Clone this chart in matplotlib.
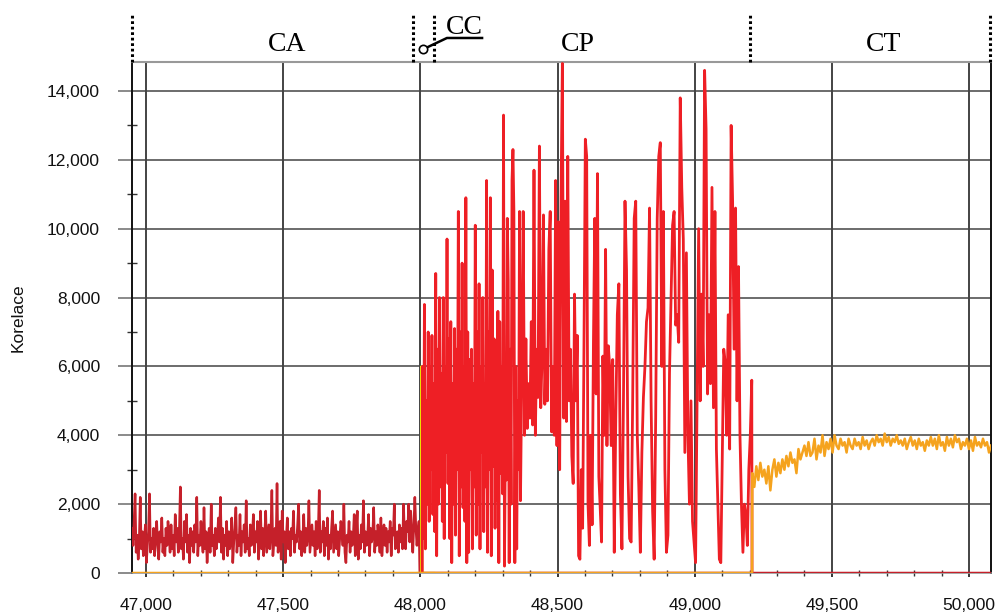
import numpy as np
import matplotlib
matplotlib.use("Agg")
import matplotlib.pyplot as plt
from matplotlib.ticker import MultipleLocator, FuncFormatter
import matplotlib.transforms as mtransforms

# ---------------- data ----------------
x_start, x_end = 46949, 50080
ca_end = 47995
ca_values = [
    1300, 800, 1500, 2300, 600, 1100, 400, 900, 2200, 700, 1200, 500, 1000, 1400, 300, 800, 1200, 2300, 600, 1000,
    700, 1300, 500, 1100, 1500, 800, 400, 1200, 900, 1600, 600, 1000, 500, 1300, 800, 1500, 1100, 600, 1400, 700,
    1100, 500, 1700, 900, 1300, 600, 1200, 2500, 700, 1000, 400, 1500, 900, 1700, 600, 1100, 300, 1300, 800, 1200,
    600, 1400, 900, 2200, 500, 1100, 800, 1500, 1000, 600, 1900, 700, 1200, 300, 900, 1300, 600, 2000, 800, 1100,
    500, 1300, 700, 1000, 1600, 900, 2200, 600, 1300, 400, 1100, 800, 1500, 500, 1200, 700, 1000, 1600, 300, 900,
    1300, 1900, 600, 1100, 800, 1700, 500, 1200, 900, 1400, 600, 2100, 700, 1000, 500, 1400, 800, 1100, 1700, 600,
    1200, 900, 1500, 400, 1000, 1800, 700, 1300, 500, 1100, 1800, 600, 1000, 1400, 700, 1200, 2400, 500, 900, 1300,
    800, 2600, 600, 1100, 1500, 400, 1800, 900, 1200, 300, 1000, 1600, 700, 1200, 500, 1300, 1000, 1800, 600, 1100,
    900, 1400, 2000, 700, 1200, 500, 1000, 1700, 600, 1300, 800, 1100, 2100, 600, 1000, 1400, 800, 1200, 500, 1500,
    700, 1100, 2400, 600, 1200, 900, 1500, 500, 1300, 800, 1600, 400, 1100, 700, 1300, 1800, 600, 1000, 1400, 700,
    1200, 500, 1000, 1500, 1300, 800, 2000, 600, 300, 1100, 900, 1500, 600, 1200, 800, 1000, 1700, 500, 1200, 1800,
    400, 1100, 700, 1400, 900, 2100, 600, 1200, 800, 1000, 1700, 500, 1300, 900, 1100, 1900, 600, 1200, 800, 1400,
    1100, 600, 1600, 500, 1000, 1400, 800, 1300, 600, 1200, 900, 1500, 500, 1300, 1100, 2000, 700, 1000, 1200, 600,
    1400, 900, 1300, 700, 2000, 1000, 700, 1500, 1200, 2000, 900, 1800, 1100, 600, 1400, 2200, 1300, 800, 1200, 1500,
]

cc_x = [47990, 48003, 48004, 48007, 48050]
cc_y = [0, 0, 6000, 0, 0]

cp_breaks = [48008, 48365, 48690, 49020, 49208]
cp_a = [6000, 1000, 7800, 700, 5000, 2000, 7000, 1500, 6000, 3000,
        6900, 1700, 5500, 1200, 8700, 500, 6500, 2000, 8000, 2500,
        5800, 1500, 8000, 1000, 6000, 3500, 9700, 2600, 6800, 1000,
        7300, 300, 5500, 2000, 7100, 1100, 6500, 3000, 10500, 500,
        7000, 2500, 9000, 1900, 6000, 1500, 10900, 300, 7000, 600,
        6200, 3000, 6500, 700, 5500, 2500, 10100, 1100, 7000, 2000,
        8400, 700, 6000, 3500, 8000, 1200, 5500, 2500, 11400, 600,
        7000, 3000, 10900, 500, 8800, 3100, 6800, 1300, 6700, 2100,
        7600, 300, 7300, 2900, 6000, 2300, 13300, 200, 4000, 2700,
        10300, 8500, 300, 6500, 2000, 11400, 12300, 10500, 300, 6000,
        700, 5000, 3000, 10500]
cp_b = [2100, 6000, 10500, 4000, 6800, 4200, 5500, 4500, 7300, 4300,
        11700, 4000, 6500, 5100, 12400, 4800, 6300, 10400, 4900, 6500,
        5000, 9400, 10500, 4100, 6000, 4000, 11400, 3700, 10200, 3000,
        10900, 14800, 4500, 10800, 4400, 12100, 5000, 6500, 3400, 2600,
        8100, 5000, 6900, 500, 400, 3000, 1300, 6600, 12600, 12100,
        2000, 800, 4000, 1400, 6700, 10300, 5200, 11600, 2800, 1900,
        900, 6300, 4000, 9400, 3700, 6600]
cp_c = [6000, 3700, 6200, 600, 4500, 7500, 8400, 2300, 700, 5000,
        10800, 8800, 2800, 1000, 900, 5000, 10300, 10800, 4000, 2500,
        600, 3500, 5100, 6000, 7300, 7700, 10600, 5000, 1800, 400,
        4500, 10300, 12100, 12500, 6000, 10500, 3000, 600, 1100, 5800,
        8000, 10100, 10500, 7200, 7500, 6700, 13800, 11200, 9700, 3500,
        9300, 4000, 2000, 5000, 1500, 900, 300, 5000, 10000]
cp_d = [5000, 8100, 6000, 14600, 12900, 5200, 7500, 5500, 11200, 4800,
        10500, 3600, 2000, 400, 300, 3500, 6500, 6100, 4000, 7500,
        3600, 13000, 10800, 6500, 10600, 5000, 8900, 4000, 2000, 600,
        2000, 1700, 800, 3000, 4000, 5600]

ct_start = 49210
ct_values = [
    2900, 2500, 3100, 2700, 3200, 2800, 3000, 2600, 3100, 2400, 3000, 3300, 2800, 3200, 2900,
    3300, 3000, 3400, 3100, 3500, 3200, 3300, 2900, 3600, 3300, 3500, 3700, 3400, 3800, 3400,
    3500, 3900, 3300, 3700, 3500, 4000, 3400, 3800, 3600, 3900, 3500, 4000, 3700, 3600, 3900,
    3700, 3800, 3500, 3900, 3700, 3600, 3900, 3700, 3800, 3600, 3950, 3700, 3850, 3600, 3800,
    3900, 3700, 4000, 3800, 3900, 3700, 4050, 3800, 3950, 3700, 3900, 3800, 4000, 3750, 3850,
    3700, 3900, 3600, 3800, 3950, 3700, 3850, 3600, 3900, 3700, 3800, 3550, 3850, 3700, 3950,
    3700, 3900, 3600, 4000, 3700, 3800, 3550, 3950, 3700, 3900, 3650, 4000, 3800, 3900, 3600,
    3800, 3700, 3900, 3600, 3850, 3550, 3950, 3700, 3800, 3650, 3900, 3700, 3800, 3500, 3700,
]

region_labels = ["CA", "CC", "CP", "CT"]
region_bounds = [x_start, 47973, 48050, 49201, 50076]

# ---------------- build series ----------------
ca_x = np.concatenate([np.linspace(x_start, ca_end, len(ca_values)), [ca_end + 3, x_end]])
ca_y = np.concatenate([ca_values, [0, 0]])

cp_segs = [cp_a, cp_b, cp_c, cp_d]
cp_xs, cp_ys = [[cp_breaks[0] - 1]], [[0]]
for i, seg in enumerate(cp_segs):
    lo, hi = cp_breaks[i], cp_breaks[i + 1]
    xs = np.linspace(lo, hi, len(seg) + 1)[:-1] if i < len(cp_segs) - 1 else np.linspace(lo, hi, len(seg))
    cp_xs.append(xs)
    cp_ys.append(seg)
cp_xs.append([cp_breaks[-1] + 1])
cp_ys.append([0])
cp_x = np.concatenate(cp_xs)
cp_y = np.concatenate(cp_ys)

ct_x = np.concatenate([[x_start, ct_start - 1], np.linspace(ct_start, x_end, len(ct_values))])
ct_y = np.concatenate([[0, 0], ct_values])

# ---------------- figure ----------------
plt.rcParams['font.family'] = ['Liberation Sans', 'DejaVu Sans']
fig = plt.figure(figsize=(10.02, 6.16), dpi=100)
ax = fig.add_axes([132 / 1002, (616 - 573) / 616, (991 - 132) / 1002, (573 - 62) / 616])

ax.set_xlim(x_start, x_end)
ax.set_ylim(0, 14842)

ax.plot(ca_x, ca_y, color='#c5202a', lw=1.8, zorder=3)
ax.plot(cc_x, cc_y, color='#f0e000', lw=1.6, zorder=3)
ax.plot(cp_x, cp_y, color='#ee1f25', lw=2.0, zorder=4)
ax.plot(ct_x, ct_y, color='#f5a31e', lw=1.8, zorder=5)

# grid
ax.xaxis.set_major_locator(MultipleLocator(500))
ax.xaxis.set_minor_locator(MultipleLocator(100))
ax.yaxis.set_major_locator(MultipleLocator(2000))
ax.yaxis.set_minor_locator(MultipleLocator(1000))
ax.grid(True, axis='x', which='major', color='#111111', lw=1.1, zorder=1)
ax.grid(True, axis='y', which='major', color='#444444', lw=1.1, zorder=1)
ax.set_axisbelow(True)

fmt = FuncFormatter(lambda v, p: f"{int(round(v)):,}")
ax.xaxis.set_major_formatter(fmt)
ax.yaxis.set_major_formatter(fmt)

ax.tick_params(axis='y', which='major', direction='out', length=10, width=1.2,
               color='#777777', labelsize=12.5, pad=13, labelcolor='#111111')
ax.tick_params(axis='y', which='minor', direction='inout', length=7, width=1.0, color='#333333')
ax.tick_params(axis='x', which='major', direction='out', length=3, width=1.2,
               color='#111111', labelsize=12.5, pad=15, labelcolor='#111111')
ax.tick_params(axis='x', which='minor', direction='inout', length=4, width=1.0, color='#333333')

for side in ['left', 'right']:
    ax.spines[side].set_color('#111111')
    ax.spines[side].set_linewidth(1.4)
ax.spines['top'].set_color('#999999')
ax.spines['top'].set_linewidth(1.5)
ax.spines['bottom'].set_color('#999999')
ax.spines['bottom'].set_linewidth(1.2)

ax.set_ylabel("Korelace", fontsize=12.5, color='#111111')
ax.yaxis.set_label_coords(-(132 - 18) / 859, 0.5)
ax.yaxis.label.set_verticalalignment('center')

# region annotations above the plot
trans = mtransforms.blended_transform_factory(ax.transData, ax.transAxes)
for xb in region_bounds:
    ax.plot([xb, xb], [1.0, 1.094], transform=trans, color='black', lw=2.2,
            linestyle=(0, (0.9, 0.9)), clip_on=False, zorder=6)

serif = ['Liberation Serif', 'DejaVu Serif']
ax.text(47514, 1.035, region_labels[0], transform=trans, ha='center', va='center',
        fontsize=20, family=serif)
ax.text(48575, 1.035, region_labels[2], transform=trans, ha='center', va='center',
        fontsize=20, family=serif)
ax.text(49687, 1.035, region_labels[3], transform=trans, ha='center', va='center',
        fontsize=20, family=serif)
ax.text(48159, 1.068, region_labels[1], transform=trans, ha='center', va='center',
        fontsize=20, family=serif)
ax.plot([48012, 48097, 48225], [1.0254, 1.047, 1.047], transform=trans, color='black',
        lw=1.8, clip_on=False, zorder=6)
ax.plot([48010], [1.0254], transform=trans, marker='o', ms=6, mfc='white', mec='black',
        mew=1.2, clip_on=False, zorder=7)

fig.savefig("out.png", dpi=100)
